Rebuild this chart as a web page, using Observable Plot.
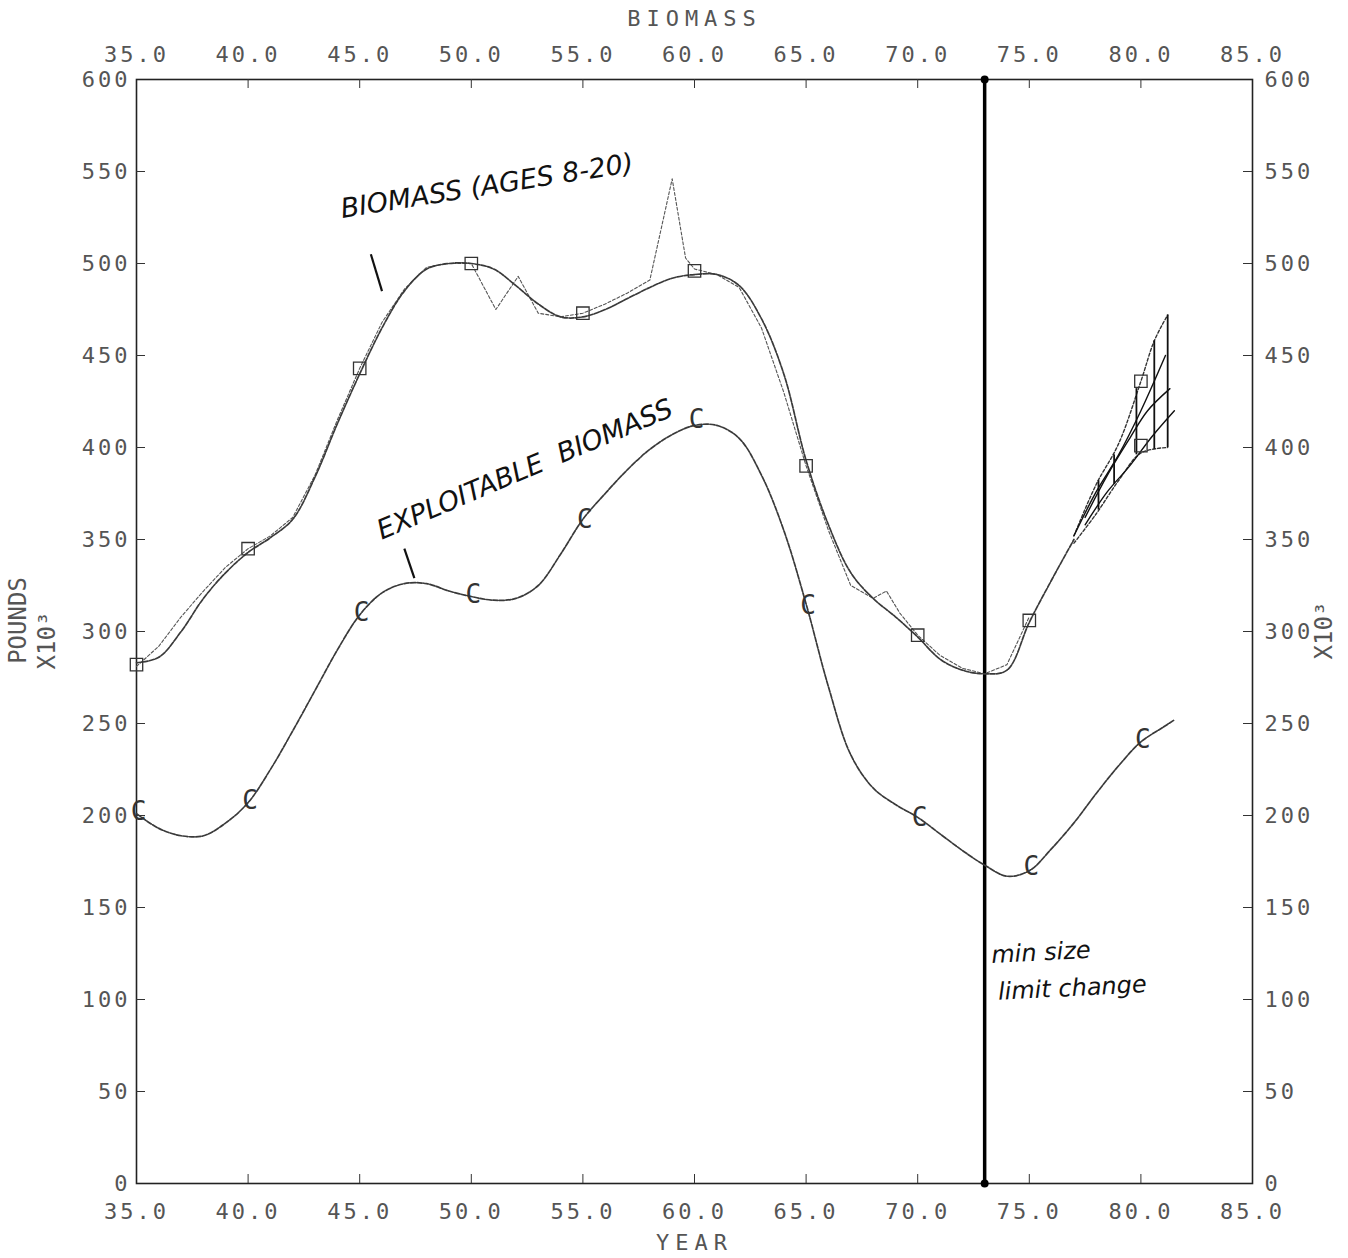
<!DOCTYPE html>
<html><head><meta charset="utf-8">
<script src="https://cdn.jsdelivr.net/npm/d3@7"></script>
<script src="https://cdn.jsdelivr.net/npm/@observablehq/plot@0.6"></script>
<style>body{margin:0;background:#fff}</style>
</head><body><div id="chart"></div>
<script>
// ---- data ----
const xTicks = [35, 40, 45, 50, 55, 60, 65, 70, 75, 80, 85];
const yTicks = [0, 50, 100, 150, 200, 250, 300, 350, 400, 450, 500, 550, 600];

// smoothed biomass (ages 8-20)
const bioYears  = [35,36,37,38,39,40,41,42,43,44,45,46,47,48,49,50,51,52,53,54,55,56,57,58,59,60,61,62,63,64,65,66,67,68,69,70,71,72,73,74,75,76,77];
const bioValues = [283,286,300,318,332,343,351,361,384,413,440,465,485,497,500,500,497,488,478,471,471,475,481,487,492,494,494,488,470,440,393,358,332,318,308,297,285,279,277,279,305,328,350];

// raw (dashed) biomass
const rawYears  = [35,36,37,38,39,40,41,42,43,44,45,46,47,48,49,50,51.1,52.1,53,54,55,56,57,58,59,59.6,60,61,62,63,64,65,66,67,68,68.6,69.2,70,71,72,73,74,75];
const rawValues = [281,292,308,322,335,345,352,362,385,415,443,468,486,498,500,500,475,493,473,471,473,478,484,491,546,503,497,494,487,465,430,390,355,325,318,322,310,298,287,280,277,282,308];

// exploitable biomass
const expYears  = [35,36,37,38,39,40,41,42,43,44,45,46,47,48,49,50,51,52,53,54,55,56,57,58,59,60,61,62,63,64,65,66,67,68,69,70,71,72,73,74,75,76,77,78,79,80,81,81.5];
const expValues = [201,193,189,189,196,207,225,246,268,290,309,321,326,326,322,319,317,318,325,342,361,375,388,399,407,412,412,405,385,355,315,270,233,215,206,199,190,181,173,167,170,182,196,212,227,240,248,252];

// marker years
const markYears = [35, 40, 45, 50, 55, 60, 65, 70, 75, 80];
const bioMarks  = [282, 345, 443, 500, 473, 496, 390, 298, 306, 436];
const bioMarks2 = [null, null, null, null, null, null, null, null, null, 401];
const expMarks  = [202, 208, 310, 320, 361, 415, 314, 199, 172, 241];

// projection fan (1977-1981)
const projections = [
  {id: "p1", dash: true,  years: [77, 78, 79, 80, 80.6, 81.2], values: [352, 380, 402, 436, 458, 472]},
  {id: "p2", dash: false, years: [77, 78, 79, 80, 81.1],       values: [352, 376, 396, 420, 450]},
  {id: "p3", dash: false, years: [77.5, 78.5, 79.5, 80.3, 81.3], values: [362, 385, 405, 420, 432]},
  {id: "p4", dash: false, years: [77.5, 78.5, 79.5, 80.5, 81.5], values: [358, 376, 390, 406, 420]},
  {id: "p5", dash: true,  years: [77, 78, 79, 80, 81.2],       values: [348, 364, 382, 397, 400]}
];
const hatchYears = [78.1, 78.8, 79.8, 80.6, 81.2];
const hatchLow   = [366, 380, 396, 399, 400];
const hatchHigh  = [382, 396, 432, 458, 472];

const changeYear = 73;

// handwritten annotations
const notesMid = [
  {x: 50.7, y: 542, text: "BIOMASS (AGES 8-20)", rotate: -9},
  {x: 52.4, y: 388, text: "EXPLOITABLE  BIOMASS", rotate: -23}
];
const notesStart = [
  {x: 73.3, y: 124, text: "min size", rotate: -3},
  {x: 73.6, y: 104, text: "limit change", rotate: -3}
];
const pointers = [
  {x1: 45.5, y1: 505, x2: 46.0, y2: 485},
  {x1: 47.0, y1: 345, x2: 47.45, y2: 329}
];

// ---- tables ----
const bio = bioYears.map((x, i) => ({x, y: bioValues[i]}));
const raw = rawYears.map((x, i) => ({x, y: rawValues[i]}));
const exp = expYears.map((x, i) => ({x, y: expValues[i]}));
const bioM = markYears.map((x, i) => ({x, y: bioMarks[i]})).concat(
  markYears.map((x, i) => ({x, y: bioMarks2[i]})).filter(d => d.y != null));
const expM = markYears.map((x, i) => ({x, y: expMarks[i]}));
const proj = projections.flatMap(p => p.years.map((x, i) => ({id: p.id, dash: p.dash, x, y: p.values[i]})));
const hatch = hatchYears.map((x, i) => ({x, y1: hatchLow[i], y2: hatchHigh[i]}));

const W = 1348, H = 1258, mL = 136, mR = 96, mT = 79, mB = 75;
const innerW = W - mL - mR, innerH = H - mT - mB;
const inner = xTicks.slice(1, -1);
const innerY = yTicks.slice(1, -1);
const lineC = "#3a3a3a";
const labC = "#555";
const hand = {fontFamily: "DejaVu Sans", fontStyle: "italic", fill: "#111"};

const chart = Plot.plot({
  width: W, height: H,
  marginLeft: mL, marginRight: mR, marginTop: mT, marginBottom: mB,
  x: {domain: [35, 85], axis: null},
  y: {domain: [0, 600], axis: null},
  style: {fontFamily: "DejaVu Sans Mono", fontSize: "22px", background: "#fff"},
  marks: [
    Plot.frame({stroke: "#222", strokeWidth: 1.6}),
    // inside ticks
    Plot.tickX(inner, {x: d => d, insetBottom: innerH - 9, stroke: "#333"}),
    Plot.tickX(inner, {x: d => d, insetTop: innerH - 9, stroke: "#333"}),
    Plot.tickY(innerY, {y: d => d, insetRight: innerW - 9, stroke: "#333"}),
    Plot.tickY(innerY, {y: d => d, insetLeft: innerW - 9, stroke: "#333"}),
    // axes
    Plot.axisX(xTicks, {anchor: "bottom", tickSize: 0, tickPadding: 20, tickFormat: d => d.toFixed(1), fill: labC, label: null}),
    Plot.axisX(xTicks, {anchor: "top", tickSize: 0, tickPadding: 18, tickFormat: d => d.toFixed(1), fill: labC, label: null}),
    Plot.axisY(yTicks, {anchor: "left", tickSize: 0, tickPadding: 6, fill: labC, label: null}),
    Plot.axisY(yTicks, {anchor: "right", tickSize: 0, tickPadding: 12, fill: labC, label: null}),
    Plot.text(["BIOMASS"], {frameAnchor: "top", lineAnchor: "middle", dy: -61, fill: labC, fontSize: 22}),
    Plot.text(["YEAR"], {frameAnchor: "bottom", lineAnchor: "middle", dy: 59, fill: labC, fontSize: 22}),
    Plot.text(["POUNDS"], {frameAnchor: "left", textAnchor: "middle", lineAnchor: "middle", dx: -118, dy: -11, rotate: -90, fill: labC, fontSize: 24}),
    Plot.text(["X10³"], {frameAnchor: "left", textAnchor: "middle", lineAnchor: "middle", dx: -89, dy: 9, rotate: -90, fill: labC, fontSize: 24}),
    Plot.text(["X10³"], {frameAnchor: "right", textAnchor: "middle", lineAnchor: "middle", dx: 72, dy: -1, rotate: -90, fill: labC, fontSize: 24}),
    // minimum size limit change
    Plot.ruleX([changeYear], {stroke: "#000", strokeWidth: 3.5}),
    Plot.dot([0, 600], {x: () => changeYear, y: d => d, r: 4, fill: "#000"}),
    // curves
    Plot.line(raw, {x: "x", y: "y", stroke: "#555", strokeWidth: 1.1, strokeDasharray: "3,2"}),
    Plot.line(bio, {x: "x", y: "y", curve: "catmull-rom", stroke: lineC, strokeWidth: 1.7, strokeDasharray: "5,1.5"}),
    Plot.line(exp, {x: "x", y: "y", curve: "catmull-rom", stroke: lineC, strokeWidth: 1.7, strokeDasharray: "5,1.5"}),
    Plot.line(proj.filter(d => d.dash), {x: "x", y: "y", z: "id", curve: "catmull-rom", stroke: "#333", strokeWidth: 1.4, strokeDasharray: "3,2"}),
    Plot.line(proj.filter(d => !d.dash), {x: "x", y: "y", z: "id", curve: "catmull-rom", stroke: "#111", strokeWidth: 1.4}),
    Plot.ruleX(hatch, {x: "x", y1: "y1", y2: "y2", stroke: "#111", strokeWidth: 1.8}),
    // markers
    Plot.dot(bioM, {x: "x", y: "y", symbol: "square", r: 7, stroke: "#333", strokeWidth: 1.3, fill: "none"}),
    Plot.text(expM, {x: "x", y: "y", text: () => "C", fontSize: 26, fill: "#333", dx: 2}),
    // handwriting
    Plot.text(notesMid, {x: "x", y: "y", text: "text", rotate: "rotate", fontSize: 27, ...hand}),
    Plot.text(notesStart, {x: "x", y: "y", text: "text", rotate: "rotate", fontSize: 24, textAnchor: "start", ...hand}),
    Plot.link(pointers, {x1: "x1", y1: "y1", x2: "x2", y2: "y2", stroke: "#111", strokeWidth: 2.2})
  ]
});
const svg = d3.select(chart);
svg.selectAll('g[aria-label$="tick label"] text').attr("letter-spacing", 3);
svg.selectAll('g[aria-label="text"] text').filter(function() {
  const t = this.textContent; return t === "BIOMASS" || t === "YEAR";
}).attr("letter-spacing", 6);
document.getElementById("chart").appendChild(chart);
</script>
</body></html>
